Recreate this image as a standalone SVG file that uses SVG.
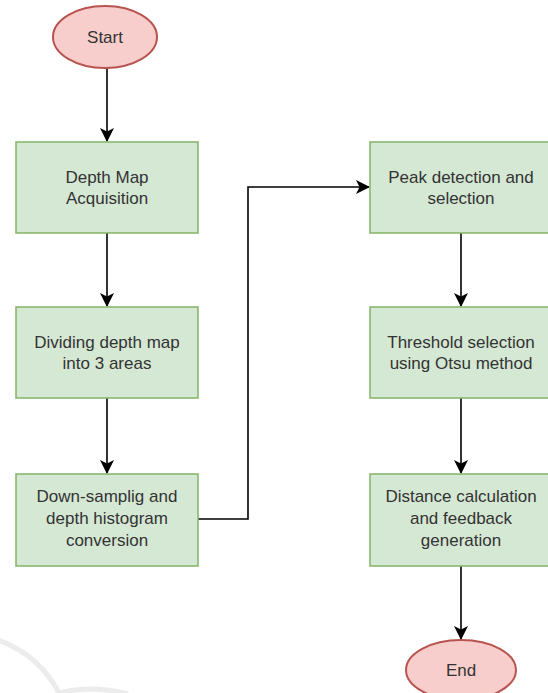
<svg xmlns="http://www.w3.org/2000/svg" width="548" height="693" viewBox="0 0 548 693">
<style>
.box{fill:#d5e8d4;stroke:#82b366;stroke-width:1.5}
.term{fill:#f8cecc;stroke:#b85450;stroke-width:2}
.t{font-family:"Liberation Sans",Arial,sans-serif;font-size:17px;fill:#333;text-anchor:middle}
.e{fill:none;stroke:#000;stroke-width:1.6}
.wm{fill:none;stroke:#ececec;stroke-width:5}
</style>
<defs>
<marker id="ah" viewBox="0 0 14 14" refX="13" refY="7" markerWidth="14" markerHeight="14" markerUnits="userSpaceOnUse" orient="auto">
<path d="M0,0 L14,7 L0,14 L3.5,7 Z" fill="#000"/>
</marker>
</defs>
<rect width="548" height="693" fill="#fff"/>
<g id="watermark">
<path class="wm" d="M-2,640 Q40,655 60,695"/>
<path class="wm" d="M56,694 Q90,684 128,694"/>
</g>
<g id="connectors">
<path class="e" d="M107,68 V141" marker-end="url(#ah)"/>
<path class="e" d="M107,233 V306" marker-end="url(#ah)"/>
<path class="e" d="M107,398 V473" marker-end="url(#ah)"/>
<path class="e" d="M198,519 H248 V187 H369" marker-end="url(#ah)"/>
<path class="e" d="M461,233 V306" marker-end="url(#ah)"/>
<path class="e" d="M461,398 V473" marker-end="url(#ah)"/>
<path class="e" d="M461,566 V639" marker-end="url(#ah)"/>
</g>
<g id="start">
<ellipse class="term" cx="105" cy="37" rx="52" ry="31"/>
<text class="t" x="105" y="43">Start</text>
</g>
<g id="n1">
<rect class="box" x="16" y="142" width="182" height="91"/>
<text class="t" x="107" y="183">Depth Map</text>
<text class="t" x="107" y="204">Acquisition</text>
</g>
<g id="n2">
<rect class="box" x="16" y="307" width="182" height="91"/>
<text class="t" x="107" y="348">Dividing depth map</text>
<text class="t" x="107" y="369">into 3 areas</text>
</g>
<g id="n3">
<rect class="box" x="16" y="474" width="182" height="92"/>
<text class="t" x="107" y="502">Down-samplig and</text>
<text class="t" x="107" y="524">depth histogram</text>
<text class="t" x="107" y="546">conversion</text>
</g>
<g id="n4">
<rect class="box" x="370" y="142" width="182" height="91"/>
<text class="t" x="461" y="183">Peak detection and</text>
<text class="t" x="461" y="204">selection</text>
</g>
<g id="n5">
<rect class="box" x="370" y="307" width="182" height="91"/>
<text class="t" x="461" y="348">Threshold selection</text>
<text class="t" x="461" y="369">using Otsu method</text>
</g>
<g id="n6">
<rect class="box" x="370" y="474" width="182" height="92"/>
<text class="t" x="461" y="502">Distance calculation</text>
<text class="t" x="461" y="524">and feedback</text>
<text class="t" x="461" y="546">generation</text>
</g>
<g id="end">
<ellipse class="term" cx="461" cy="670" rx="55" ry="30"/>
<text class="t" x="461" y="676">End</text>
</g>
</svg>
